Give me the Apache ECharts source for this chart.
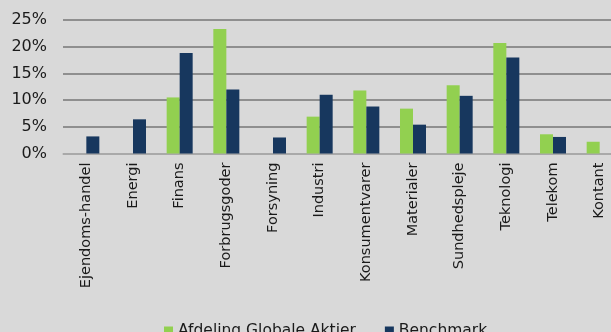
<!DOCTYPE html>
<html>
<head>
<meta charset="utf-8">
<script src="https://cdn.jsdelivr.net/npm/echarts@6/dist/echarts.min.js"></script>
<style>
    html, body { margin: 0; padding: 0; background: #d9d9d9; }
    #chart { width: 611px; height: 332px; }
</style>
</head>
<body>
<div id="chart"></div>
<script>
    // sektorer og vægte (%)
    var categories = ['Ejendoms-handel', 'Energi', 'Finans', 'Forbrugsgoder', 'Forsyning', 'Industri',
        'Konsumentvarer', 'Materialer', 'Sundhedspleje', 'Teknologi', 'Telekom', 'Kontant'];
    var afdeling = [null, null, 10.5, 23.3, null, 6.9, 11.8, 8.4, 12.8, 20.7, 3.6, 2.2];
    var benchmark = [3.2, 6.4, 18.8, 12.0, 3.0, 11.0, 8.8, 5.4, 10.8, 18.0, 3.1, null];
    var yTicks = [0, 5, 10, 15, 20, 25];

    var font = 'DejaVu Sans';
    var myChart = echarts.init(document.getElementById('chart'));

    var option = {
        backgroundColor: '#d9d9d9',
        animation: false,
        textStyle: { fontFamily: font },
        legend: {
            left: 159,
            top: 318,
            itemWidth: 9,
            itemHeight: 9,
            itemGap: 29,
            icon: 'rect',
            textStyle: { fontFamily: font, fontSize: 15.5, color: '#1a1a1a' },
            data: ['Afdeling Globale Aktier', 'Benchmark']
        },
        grid: {
            left: 63,
            top: 20,
            width: 560,
            height: 133.5,
            outerBoundsMode: 'none'
        },
        xAxis: {
            type: 'category',
            data: categories,
            axisTick: { show: false },
            axisLine: { lineStyle: { color: '#b3b3b3', width: 1.5 } },
            axisLabel: {
                rotate: 90,
                interval: 0,
                margin: 9,
                fontFamily: font,
                fontSize: 14.5,
                color: '#1a1a1a'
            }
        },
        yAxis: {
            type: 'value',
            min: yTicks[0],
            max: yTicks[yTicks.length - 1],
            interval: 5,
            axisLine: { show: false },
            axisTick: { show: false },
            axisLabel: {
                formatter: '{value}%',
                margin: 16,
                fontFamily: font,
                fontSize: 16,
                color: '#1a1a1a'
            },
            splitLine: { lineStyle: { color: '#8f8f8f', width: 2 } }
        },
        series: [
            {
                name: 'Afdeling Globale Aktier',
                type: 'bar',
                barWidth: 13,
                barGap: '0%',
                itemStyle: { color: '#92d050' },
                data: afdeling
            },
            {
                name: 'Benchmark',
                type: 'bar',
                barWidth: 13,
                itemStyle: { color: '#17375e' },
                data: benchmark
            }
        ]
    };

    myChart.setOption(option);
</script>
</body>
</html>
